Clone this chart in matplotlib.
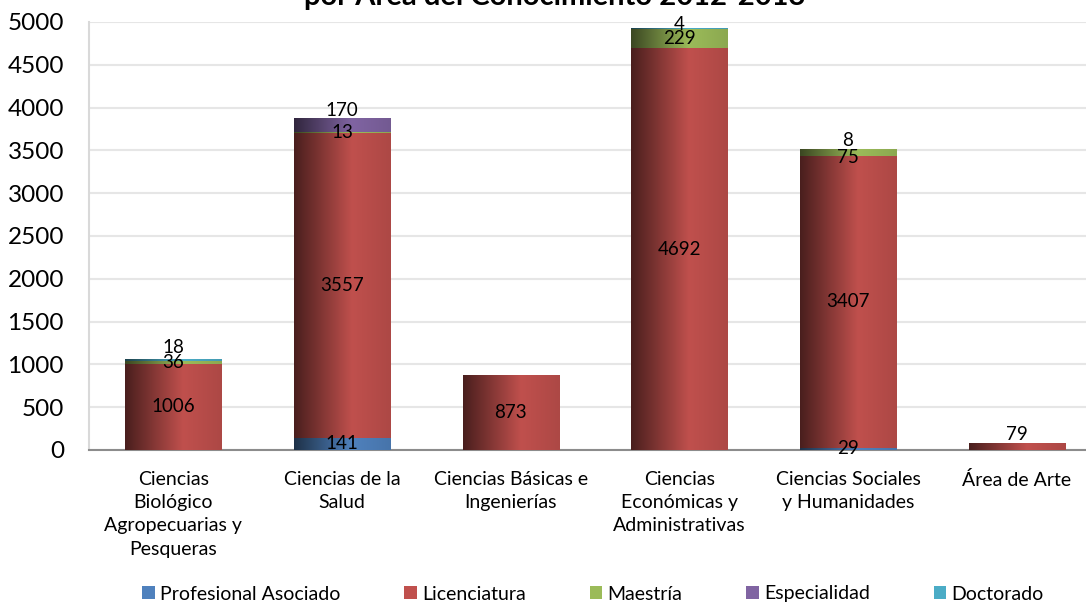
import numpy as np
import matplotlib
matplotlib.use("Agg")
import matplotlib.pyplot as plt
from matplotlib.colors import to_rgb
from matplotlib.patches import Patch

categories = ["Ciencias\nBiológico\nAgropecuarias y\nPesqueras", "Ciencias de la\nSalud",
              "Ciencias Básicas e\nIngenierías", "Ciencias\nEconómicas y\nAdministrativas",
              "Ciencias Sociales\ny Humanidades", "Área de Arte"]
series_names = ["Profesional Asociado", "Licenciatura", "Maestría", "Especialidad", "Doctorado"]
profesional = [0, 141, 0, 0, 29, 0]
licenciatura = [1006, 3557, 873, 4692, 3407, 79]
maestria = [36, 13, 0, 229, 75, 0]
especialidad = [0, 170, 0, 0, 0, 0]
doctorado = [18, 0, 0, 4, 8, 0]
yticks = [0, 500, 1000, 1500, 2000, 2500, 3000, 3500, 4000, 4500, 5000]
title = "por Área del Conocimiento 2012-2013"

series = [profesional, licenciatura, maestria, especialidad, doctorado]
colors = ["#4F81BD", "#C0504D", "#9BBB59", "#8064A2", "#4BACC6"]
# label nudges in pixels (cat index, series index) -> dy
nudges = {(0, 4): 13, (1, 3): 15, (3, 4): 4, (4, 4): 9, (4, 2): -5, (5, 1): 12}

plt.rcParams['font.family'] = ['Lato', 'DejaVu Sans']
fig = plt.figure(figsize=(10.86, 6.03), dpi=100)
ax = fig.add_axes([89/1086, 1-450/603, (1101-89)/1086, (450-22)/603])

x = np.arange(len(categories))
bottom = np.zeros(len(categories))
N = 256
t = np.linspace(0, 1, N)
f = np.where(t < 0.6, 0.38 + (1-0.38)*(t/0.6), 1.0 - 0.1*((t-0.6)/0.4))

for si, (vals, col) in enumerate(zip(series, colors)):
    vals = np.array(vals, dtype=float)
    bars = ax.bar(x, vals, 0.57, bottom=bottom, color=col, zorder=2, linewidth=0)
    base = np.array(to_rgb(col))
    grad = np.clip(base[None, :] * f[:, None], 0, 1)[None, :, :]
    for ci, p in enumerate(bars.patches):
        if vals[ci] <= 0:
            continue
        x0, y0, w, h = p.get_x(), p.get_y(), p.get_width(), p.get_height()
        im = ax.imshow(grad, extent=(x0, x0+w, y0, y0+h), aspect='auto', zorder=3,
                       interpolation='bilinear')
        im.set_clip_path(p)
        p.set_alpha(0)
        dy = nudges.get((ci, si), 0)
        ax.annotate(f"{int(vals[ci])}", (x[ci], y0 + h/2), xytext=(0, dy*0.72),
                    textcoords='offset points', ha='center', va='center',
                    fontsize=13.5, color='black', zorder=5)
    bottom += vals

ax.set_xlim(-0.5, len(categories)-0.5)
ax.set_ylim(0, 5000)
ax.set_yticks(yticks)
ax.set_xticks(x)
ax.set_xticklabels(categories, fontsize=14, linespacing=1.45, va='top')
ax.tick_params(axis='y', labelsize=17.5, length=0, pad=18)
ax.tick_params(axis='x', length=0, pad=15)
ax.yaxis.grid(True, color='#E6E6E6', linewidth=1.5, zorder=0)
ax.set_axisbelow(True)
for s in ['top', 'right']:
    ax.spines[s].set_visible(False)
ax.spines['left'].set_color('#D9D9D9')
ax.spines['left'].set_linewidth(1.5)
ax.spines['bottom'].set_color('#8C8C8C')
ax.spines['bottom'].set_linewidth(1.5)
ax.set_aspect('auto')

handles = [Patch(facecolor=c, edgecolor='none') for c in colors]
fig.legend(handles, series_names, loc='center', bbox_to_anchor=(0.546, 1-594/603), ncol=5,
           frameon=False, fontsize=14, handlelength=0.65, handleheight=0.65,
           handletextpad=0.25, columnspacing=3.3, borderpad=0)

fig.text(0.511, 1-5/603, title, ha='center', va='baseline', fontsize=21, fontweight='bold')

fig.savefig("out.png", dpi=100)
